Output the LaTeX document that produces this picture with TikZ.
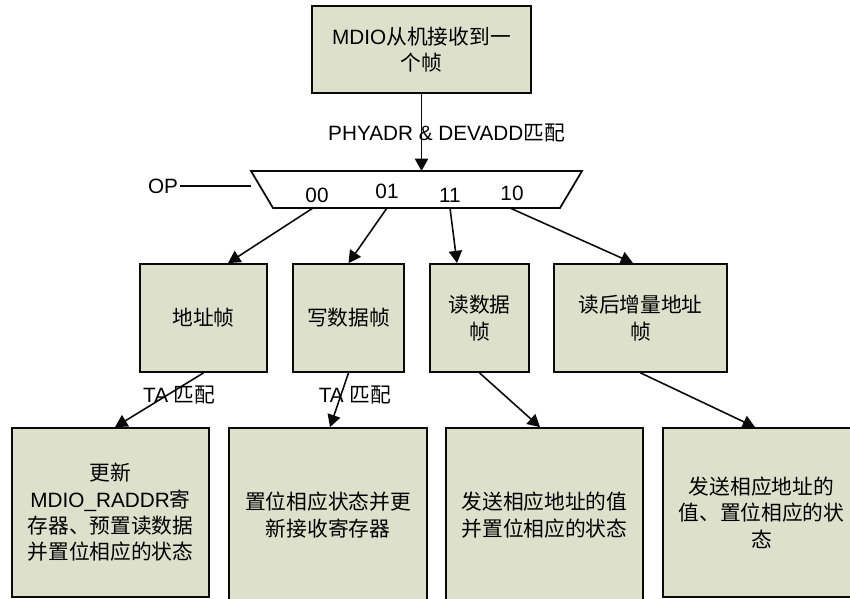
\documentclass[tikz,border=0pt]{standalone}
\usepackage{fontspec}
\setmainfont{Liberation Sans}
\newfontfamily\cjk{Noto Sans CJK SC}
\newcommand{\zh}[1]{{\cjk #1}}
\usepackage{tikz}
\usetikzlibrary{arrows.meta, shapes.geometric, positioning}
\definecolor{frameFill}{RGB}{221,224,203}
\definecolor{lineDark}{RGB}{10,10,10}

\begin{document}
\begin{tikzpicture}[
    font=\fontsize{11.8}{15}\selectfont,
    % Olive-grey frame box
    frameBox/.style={
        rectangle, draw=lineDark, fill=frameFill,
        line width=1pt, align=center, inner sep=2pt
    },
    arr/.style={-{Triangle[length=7pt,width=7.5pt]}, line width=0.9pt, draw=lineDark},
    lbl/.style={inner sep=1pt}
]
\useasboundingbox (0,0) rectangle (17,-11.98);
% ── Incoming frame ──────────────────────────────────────────
\node[frameBox, minimum width=4.38cm, minimum height=1.74cm] (rx)
    at (8.43,-0.99) {MDIO\zh{从机接收到一}\\\zh{个帧}};
% ── OP selector (upside-down trapezium) ─────────────────────
\coordinate (muxTL) at (5.02,-3.42);
\coordinate (muxTR) at (11.64,-3.42);
\coordinate (muxBR) at (11.20,-4.16);
\coordinate (muxBL) at (5.46,-4.16);
\draw[line width=1pt, draw=lineDark] (muxTL) -- (muxTR) -- (muxBR) -- (muxBL) -- cycle;
% exits on the bottom edge
\coordinate (out00) at (6.26,-4.16);
\coordinate (out01) at (7.74,-4.16);
\coordinate (out11) at (9.00,-4.16);
\coordinate (out10) at (10.20,-4.16);
\node[lbl] (op) at (3.26,-3.72) {OP};
\node[lbl] (c00) at (6.34,-3.90) {00};
\node[lbl] (c01) at (7.74,-3.82) {01};
\node[lbl] (c11) at (9.00,-3.90) {11};
\node[lbl] (c10) at (10.24,-3.86) {10};
% ── Frame types ─────────────────────────────────────────────
\node[frameBox, minimum width=2.54cm, minimum height=2.16cm] (addr)
    at (4.07,-6.36) {\zh{地址帧}};
\node[frameBox, minimum width=2.22cm, minimum height=2.16cm] (wr)
    at (6.97,-6.36) {\zh{写数据帧}};
\node[frameBox, minimum width=1.98cm, minimum height=2.16cm] (rd)
    at (9.59,-6.36) {\zh{读数据}\\\zh{帧}};
\node[frameBox, minimum width=3.46cm, minimum height=2.16cm] (rdinc)
    at (12.81,-6.36) {\zh{读后增量地址}\\\zh{帧}};
% ── Actions ─────────────────────────────────────────────────
\node[frameBox, minimum width=3.94cm, minimum height=3.38cm] (actA)
    at (2.21,-10.25)
    {\zh{更新}\\MDIO\_RADDR\zh{寄}\\\zh{存器、预置读数据}\\\zh{并置位相应的状态}};
\node[frameBox, minimum width=3.96cm, minimum height=3.48cm] (actW)
    at (6.56,-10.30) {\zh{置位相应状态并更}\\\zh{新接收寄存器}};
\node[frameBox, minimum width=3.94cm, minimum height=3.48cm] (actR)
    at (10.89,-10.30) {\zh{发送相应地址的值}\\\zh{并置位相应的状态}};
\node[frameBox, minimum width=3.94cm, minimum height=3.38cm] (actI)
    at (15.23,-10.25) {\zh{发送相应地址的}\\\zh{值、置位相应的状}\\\zh{态}};
% ── Arrows ──────────────────────────────────────────────────
\draw[arr] (rx.south) -- (rx.south |- muxTL)
    node[lbl, pos=0.51, xshift=0.5cm] {PHYADR \& DEVADD\zh{匹配}};
\draw[line width=0.9pt, draw=lineDark] (op.east) -- (op.east -| muxTL);
\draw[arr] (out00) -- ([xshift=0.49cm]addr.north);
\draw[arr] (out01) -- (wr.north);
\draw[arr] (out11) -- ([xshift=-0.45cm]rd.north);
\draw[arr] (out10) -- ([xshift=-0.15cm]rdinc.north);
\draw[arr] (addr.south) -- ([xshift=0.09cm]actA.north)
    node[lbl, pos=0.41, xshift=0.24cm] {TA \zh{匹配}};
\draw[arr] (wr.south) -- ([xshift=0.04cm]actW.north)
    node[lbl, pos=0.41, xshift=0.28cm] {TA \zh{匹配}};
\draw[arr] (rd.south) -- ([xshift=-0.09cm]actR.north);
\draw[arr] (rdinc.south) -- ([xshift=-0.13cm]actI.north);
\end{tikzpicture}
\end{document}
